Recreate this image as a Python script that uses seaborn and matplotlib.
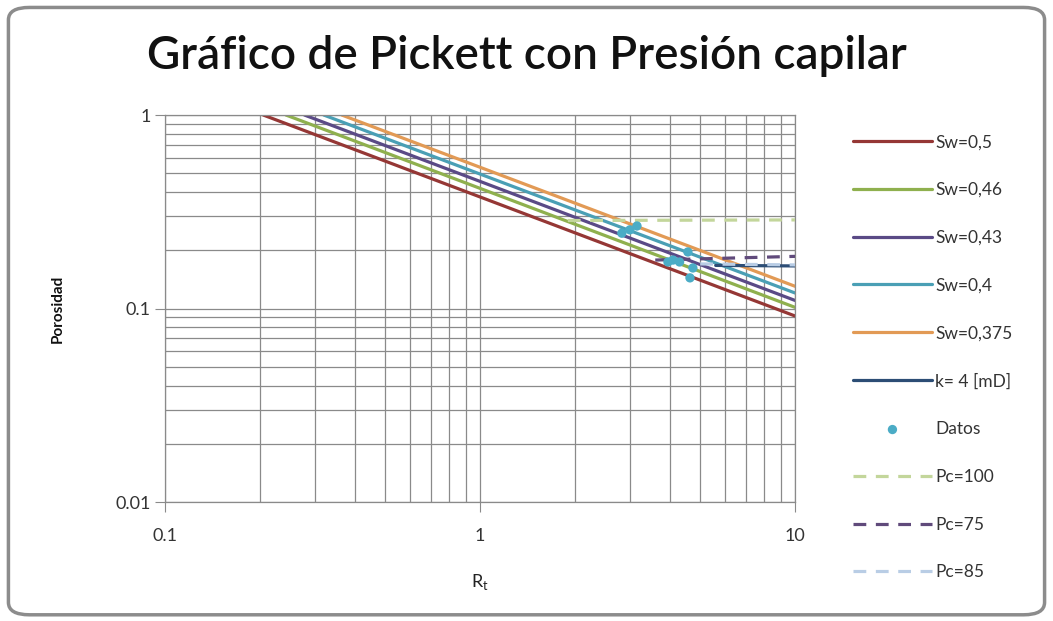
import numpy as np
import pandas as pd
import seaborn as sns
import matplotlib.pyplot as plt
from matplotlib.patches import FancyBboxPatch
from matplotlib.ticker import FuncFormatter, LogLocator, NullFormatter

# Pickett lines (Sw), each drawn between two end points (Rt, phi)
sw_labels = ["Sw=0,5", "Sw=0,46", "Sw=0,43", "Sw=0,4", "Sw=0,375"]
sw_rt = [[0.205, 10], [0.242, 10], [0.277, 10], [0.319, 10], [0.364, 10]]
sw_phi = [[1.0, 0.0915], [1.0, 0.1014], [1.0, 0.1101], [1.0, 0.1203], [1.0, 0.1303]]
sw_colors = ["#953735", "#8FB04E", "#5A4A86", "#4A9FB5", "#E29A55"]

# k = 4 mD line
k_rt = [5.6, 10]
k_phi = [0.167, 0.166]

# data points
datos_rt = [2.82, 2.99, 3.15, 3.95, 4.10, 4.30, 4.57, 4.64, 4.74]
datos_phi = [0.245, 0.255, 0.267, 0.174, 0.178, 0.174, 0.196, 0.144, 0.162]

# capillary pressure lines
pc_labels = ["Pc=100", "Pc=75", "Pc=85"]
pc_rt = [[1.9, 10], [3.6, 10], [5.0, 10]]
pc_phi = [[0.285, 0.287], [0.178, 0.186], [0.170, 0.168]]
pc_colors = ["#C3D69B", "#604A7B", "#B9CDE5"]

sns.set_style("white")
plt.rcParams["font.family"] = ["Lato", "DejaVu Sans"]

fig = plt.figure(figsize=(10.53, 6.21), dpi=100)
ax = fig.add_axes([0.1567, 0.1916, 0.5983, 0.6232])

# frame round the chart
frame = FancyBboxPatch((0.008, 0.01), 0.984, 0.978, boxstyle="round,pad=0,rounding_size=0.02",
                       transform=fig.transFigure, facecolor="white", edgecolor="#8C8C8C",
                       lw=2.5, zorder=-10)
fig.patches.append(frame)

for lab, xs, ys, c in zip(sw_labels, sw_rt, sw_phi, sw_colors):
    sns.lineplot(x=xs, y=ys, ax=ax, color=c, lw=2.3, label=lab, sort=False)

sns.lineplot(x=k_rt, y=k_phi, ax=ax, color="#2C4D75", lw=2.3, label="k= 4 [mD]", sort=False)

sns.scatterplot(x=datos_rt, y=datos_phi, ax=ax, color="#4BACC6", s=45, edgecolor="none",
                label="Datos", zorder=5)

for lab, xs, ys, c in zip(pc_labels, pc_rt, pc_phi, pc_colors):
    sns.lineplot(x=xs, y=ys, ax=ax, color=c, lw=2.3, label=lab, linestyle=(0, (4, 3)),
                 sort=False, zorder=4)

ax.set_xscale("log")
ax.set_yscale("log")
ax.set_xlim(0.1, 10)
ax.set_ylim(0.01, 1)

fmt = FuncFormatter(lambda v, p: f"{v:g}")
ax.xaxis.set_major_formatter(fmt)
ax.yaxis.set_major_formatter(fmt)
ax.xaxis.set_minor_locator(LogLocator(base=10, subs=np.arange(2, 10)))
ax.yaxis.set_minor_locator(LogLocator(base=10, subs=np.arange(2, 10)))
ax.xaxis.set_minor_formatter(NullFormatter())
ax.yaxis.set_minor_formatter(NullFormatter())
ax.grid(True, which="both", color="#8A8A8A", lw=0.9)
ax.set_axisbelow(True)
ax.tick_params(which="major", direction="out", length=7, color="#8A8A8A",
               labelsize=13, labelcolor="#333333", bottom=True, left=True)
ax.tick_params(axis="x", which="major", pad=12)
ax.tick_params(which="minor", length=0)
for s in ax.spines.values():
    s.set_color("#8A8A8A")
    s.set_linewidth(0.9)

ax.set_xlabel(r"R$_\mathregular{t}$", fontsize=13, color="#222222", labelpad=20)
ax.set_ylabel("Porosidad", fontsize=11, fontweight="bold", color="#111111", labelpad=36)

fig.text(0.5, 0.91, "Gráfico de Pickett con Presión capilar", ha="center", va="center",
         fontsize=33, fontweight="semibold", color="#111111")

handles, labels = ax.get_legend_handles_labels()
ax.legend_.remove()
fig.legend(handles, labels, loc="upper left", bbox_to_anchor=(0.803, 0.795), frameon=False,
           fontsize=12.5, labelcolor="#333333", labelspacing=1.83, handlelength=4.6,
           handletextpad=0.15, borderaxespad=0)

fig.savefig("out.png", dpi=100)
